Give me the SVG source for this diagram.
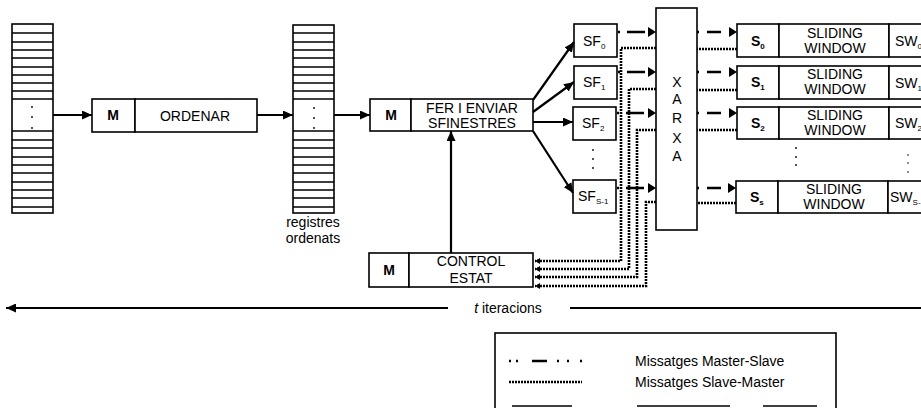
<svg xmlns="http://www.w3.org/2000/svg" width="921" height="408" viewBox="0 0 921 408">
<defs>
<style>
.box{fill:#fff;stroke:#000;stroke-width:1.6}
.row{stroke:#000;stroke-width:1.3}
.t{font-family:"Liberation Sans",Arial,sans-serif;font-size:14px;fill:#000;text-anchor:middle}
.tl{font-family:"Liberation Sans",Arial,sans-serif;font-size:14px;fill:#000}
.b{font-weight:bold}
.sub{font-size:8px}
.solid{fill:none;stroke:#000;stroke-width:2.2}
.ms{fill:none;stroke:#000;stroke-width:2.6}
.sm{fill:none;stroke:#000;stroke-width:2.6;stroke-dasharray:2 1}
.dot{fill:#000}
</style>
<marker id="ah" markerUnits="userSpaceOnUse" markerWidth="11" markerHeight="9" refX="10" refY="4.5" orient="auto"><path d="M0,0 L10,4.5 L0,9 z" fill="#000"/></marker>
<marker id="ahm" markerUnits="userSpaceOnUse" markerWidth="9" markerHeight="10" refX="8" refY="5" orient="auto"><path d="M0,0 L8,5 L0,10 z" fill="#000"/></marker>
<marker id="ahs" markerUnits="userSpaceOnUse" markerWidth="6" markerHeight="6" refX="5" refY="3" orient="auto"><path d="M0,0 L5,3 L0,6 z" fill="#000"/></marker>
</defs>

<!-- input stack -->
<g id="stack-in">
<rect class="box" x="12" y="24" width="41" height="189"/>
<path class="row" d="M12,33H53M12,42H53M12,50H53M12,58H53M12,67H53M12,75H53M12,83H53M12,91H53M12,99H53M12,131H53M12,140H53M12,148H53M12,157H53M12,165H53M12,173H53M12,182H53M12,190H53M12,198H53M12,207H53"/>
<circle class="dot" cx="32" cy="107" r="0.9"/><circle class="dot" cx="32" cy="117" r="0.9"/><circle class="dot" cx="32" cy="128" r="0.9"/>
</g>

<g id="ordenar">
<rect class="box" x="92" y="99" width="43" height="33"/>
<rect class="box" x="135" y="99" width="122" height="33"/>
<text class="t b" x="113" y="120" font-size="13">M</text>
<text class="t" x="195" y="121">ORDENAR</text>
</g>

<g id="stack-sorted">
<rect class="box" x="293" y="25" width="41" height="188"/>
<path class="row" d="M293,33H334M293,42H334M293,50H334M293,58H334M293,67H334M293,75H334M293,83H334M293,91H334M293,99H334M293,131H334M293,140H334M293,148H334M293,157H334M293,165H334M293,173H334M293,182H334M293,190H334M293,198H334M293,207H334"/>
<circle class="dot" cx="314" cy="108" r="0.9"/><circle class="dot" cx="314" cy="118" r="0.9"/><circle class="dot" cx="314" cy="128" r="0.9"/>
<text class="t" x="313" y="227">registres</text>
<text class="t" x="313" y="243">ordenats</text>
</g>

<g id="fer">
<rect class="box" x="370" y="99" width="41" height="32"/>
<rect class="box" x="411" y="99" width="122" height="32"/>
<text class="t b" x="391" y="120" font-size="13">M</text>
<text class="t" x="472" y="113">FER I ENVIAR</text>
<text class="t" x="472" y="128">SFINESTRES</text>
</g>

<g id="control">
<rect class="box" x="369" y="253" width="40" height="34"/>
<rect class="box" x="409" y="253" width="124" height="34"/>
<text class="t b" x="389" y="275" font-size="13">M</text>
<text class="t" x="471" y="266">CONTROL</text>
<text class="t" x="471" y="283">ESTAT</text>
</g>

<g id="sf0"><rect class="box" x="574" y="24" width="43" height="33"/><text class="tl" x="583" y="46">SF<tspan class="sub" dy="3">0</tspan></text></g>
<g id="sf1"><rect class="box" x="574" y="66" width="43" height="33"/><text class="tl" x="583" y="87">SF<tspan class="sub" dy="3">1</tspan></text></g>
<g id="sf2"><rect class="box" x="573" y="107" width="43" height="33"/><text class="tl" x="582" y="128">SF<tspan class="sub" dy="3">2</tspan></text></g>
<g id="sf-dots"><circle class="dot" cx="593" cy="150" r="0.9"/><circle class="dot" cx="593" cy="159" r="0.9"/><circle class="dot" cx="593" cy="168" r="0.9"/></g>
<g id="sfs1"><rect class="box" x="573" y="180" width="43" height="33"/><text class="tl" x="578" y="201">SF<tspan class="sub" dy="3">S-1</tspan></text></g>

<g id="xarxa">
<rect class="box" x="656" y="8" width="41" height="222"/>
<text class="t" x="677" y="87">X</text>
<text class="t" x="677" y="104">A</text>
<text class="t" x="677" y="123">R</text>
<text class="t" x="677" y="143">X</text>
<text class="t" x="677" y="161">A</text>
</g>

<g id="s0"><rect class="box" x="737" y="24" width="42" height="33"/><rect class="box" x="779" y="24" width="110" height="33"/><rect class="box" x="889" y="24" width="40" height="33"/>
<text class="tl b" x="751" y="46">S<tspan class="sub" dy="3">0</tspan></text><text class="t" x="835" y="38">SLIDING</text><text class="t" x="835" y="53">WINDOW</text><text class="tl" x="895" y="46">SW<tspan class="sub" dy="3">0</tspan></text></g>
<g id="s1"><rect class="box" x="737" y="66" width="42" height="33"/><rect class="box" x="779" y="66" width="110" height="33"/><rect class="box" x="889" y="66" width="40" height="33"/>
<text class="tl b" x="751" y="87">S<tspan class="sub" dy="3">1</tspan></text><text class="t" x="835" y="79">SLIDING</text><text class="t" x="835" y="94">WINDOW</text><text class="tl" x="895" y="88">SW<tspan class="sub" dy="3">1</tspan></text></g>
<g id="s2"><rect class="box" x="737" y="107" width="42" height="32"/><rect class="box" x="779" y="107" width="110" height="32"/><rect class="box" x="889" y="107" width="40" height="32"/>
<text class="tl b" x="751" y="128">S<tspan class="sub" dy="3">2</tspan></text><text class="t" x="835" y="120">SLIDING</text><text class="t" x="835" y="135">WINDOW</text><text class="tl" x="895" y="128">SW<tspan class="sub" dy="3">2</tspan></text></g>
<g id="s-dots"><circle class="dot" cx="796" cy="148" r="0.9"/><circle class="dot" cx="796" cy="157" r="0.9"/><circle class="dot" cx="796" cy="165" r="0.9"/><circle class="dot" cx="908" cy="155" r="0.8"/><circle class="dot" cx="908" cy="163" r="0.8"/><circle class="dot" cx="908" cy="172" r="0.8"/></g>
<g id="ss"><rect class="box" x="736" y="181" width="42" height="32"/><rect class="box" x="778" y="181" width="110" height="32"/><rect class="box" x="888" y="181" width="40" height="32"/>
<text class="tl b" x="750" y="202">S<tspan class="sub" dy="3">s</tspan></text><text class="t" x="834" y="194">SLIDING</text><text class="t" x="834" y="209">WINDOW</text><text class="tl" x="890" y="202">SW<tspan class="sub" dy="3">S-1</tspan></text></g>

<g id="connectors">
<line class="solid" x1="53" y1="115" x2="92" y2="115" marker-end="url(#ah)"/>
<line class="solid" x1="257" y1="115" x2="293" y2="115" marker-end="url(#ah)"/>
<line class="solid" x1="334" y1="115" x2="370" y2="115" marker-end="url(#ah)"/>
<line class="solid" x1="451" y1="253" x2="451" y2="131" marker-end="url(#ah)"/>
<line class="solid" x1="533" y1="100" x2="574" y2="42" marker-end="url(#ah)"/>
<line class="solid" x1="533" y1="112" x2="574" y2="82" marker-end="url(#ah)"/>
<line class="solid" x1="533" y1="122" x2="573" y2="122" marker-end="url(#ah)"/>
<line class="solid" x1="533" y1="131" x2="573" y2="193" marker-end="url(#ah)"/>
<!-- master-slave -->
<line class="ms" x1="618" y1="32" x2="656" y2="32" stroke-dasharray="2 7 18 20" marker-end="url(#ahm)"/>
<line class="ms" x1="618" y1="72" x2="656" y2="72" stroke-dasharray="2 7 18 20" marker-end="url(#ahm)"/>
<line class="ms" x1="617" y1="113" x2="656" y2="113" stroke-dasharray="2 7 18 20" marker-end="url(#ahm)"/>
<line class="ms" x1="617" y1="188" x2="656" y2="188" stroke-dasharray="2 7 18 20" marker-end="url(#ahm)"/>
<line class="ms" x1="697" y1="32" x2="737" y2="32" stroke-dasharray="2 8 14 30" marker-end="url(#ahm)"/>
<line class="ms" x1="697" y1="72" x2="737" y2="72" stroke-dasharray="2 8 14 30" marker-end="url(#ahm)"/>
<line class="ms" x1="697" y1="113" x2="737" y2="113" stroke-dasharray="2 8 14 30" marker-end="url(#ahm)"/>
<line class="ms" x1="697" y1="188" x2="736" y2="188" stroke-dasharray="2 8 14 30" marker-end="url(#ahm)"/>
<!-- slave-master -->
<line class="sm" x1="737" y1="49" x2="697" y2="49"/>
<line class="sm" x1="737" y1="90" x2="697" y2="90"/>
<line class="sm" x1="737" y1="130" x2="697" y2="130"/>
<line class="sm" x1="736" y1="203" x2="697" y2="203"/>
<path class="sm" d="M656,48H621V261H535" marker-end="url(#ahs)"/>
<path class="sm" d="M656,89H629V269H535" marker-end="url(#ahs)"/>
<path class="sm" d="M656,130H637V277H535" marker-end="url(#ahs)"/>
<path class="sm" d="M656,202H646V286H535" marker-end="url(#ahs)"/>
</g>

<g id="iterations">
<line class="solid" x1="448" y1="308" x2="6" y2="308" marker-end="url(#ah)"/>
<line class="solid" x1="570" y1="308" x2="921" y2="308"/>
<text class="t" x="508" y="313"><tspan font-style="italic">t</tspan> iteracions</text>
</g>

<g id="legend">
<rect x="495" y="333" width="341" height="90" fill="#fff" stroke="#000" stroke-width="1.6"/>
<line class="ms" x1="509" y1="361" x2="582" y2="361" stroke-dasharray="2 5 2 14 15 10 2 8 2 11 2 20"/>
<text class="tl" x="635" y="366">Missatges Master-Slave</text>
<line class="sm" x1="509" y1="382" x2="582" y2="382"/>
<text class="tl" x="635" y="387">Missatges Slave-Master</text>
<line x1="512" y1="406" x2="572" y2="406" stroke="#000" stroke-width="1.4"/>
<line x1="637" y1="406" x2="730" y2="406" stroke="#000" stroke-width="1.4"/>
<line x1="763" y1="406" x2="817" y2="406" stroke="#000" stroke-width="1.4"/>
</g>
</svg>
